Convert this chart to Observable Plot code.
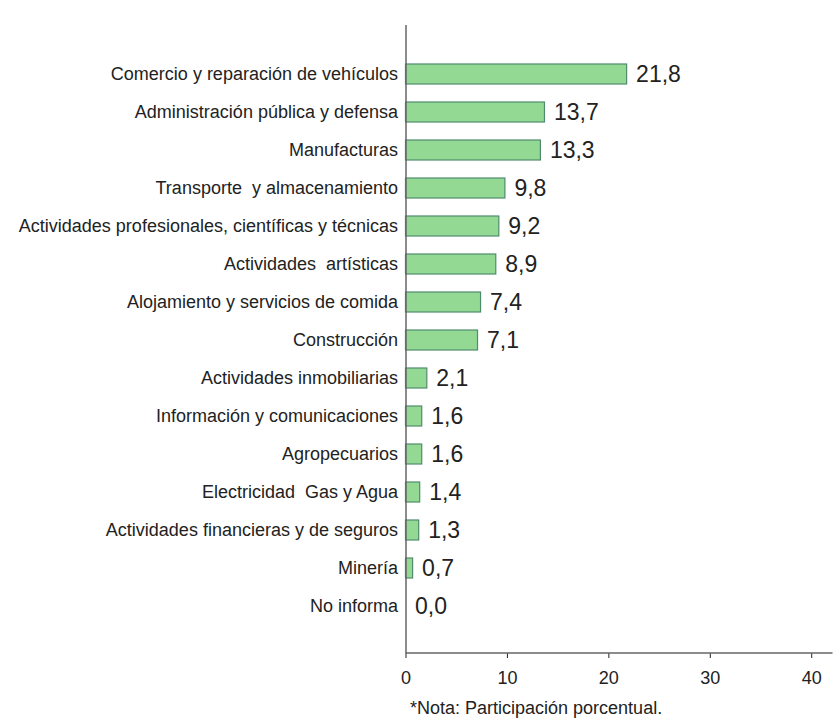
<!DOCTYPE html>
<html>
<head>
<meta charset="utf-8">
<script src="https://cdn.jsdelivr.net/npm/d3@7"></script>
<script src="https://cdn.jsdelivr.net/npm/@observablehq/plot@0.6"></script>
<style>
  html, body { margin: 0; padding: 0; background: #fff; }
  #chart svg text { white-space: pre; }
  .note { font-family: "Liberation Sans", Arial, sans-serif; font-size: 18px; color: #222;
          margin: 8px 0 0 410px; line-height: 20px; }
</style>
</head>
<body>
<div id="chart"></div>
<div class="note">*Nota: Participación porcentual.</div>
<script>
const categories = [
  "Comercio y reparación de vehículos",
  "Administración pública y defensa",
  "Manufacturas",
  "Transporte  y almacenamiento",
  "Actividades profesionales, científicas y técnicas",
  "Actividades  artísticas",
  "Alojamiento y servicios de comida",
  "Construcción",
  "Actividades inmobiliarias",
  "Información y comunicaciones",
  "Agropecuarios",
  "Electricidad  Gas y Agua",
  "Actividades financieras y de seguros",
  "Minería",
  "No informa"
];
const values = [21.8, 13.7, 13.3, 9.8, 9.2, 8.9, 7.4, 7.1, 2.1, 1.6, 1.6, 1.4, 1.3, 0.7, 0.0];
const xTicks = [0, 10, 20, 30, 40];

const data = categories.map((c, i) => ({category: c, value: values[i]}));
const fmt = v => v.toFixed(1).replace(".", ",");

function xAxisLine(...args) {
  const dims = args.find(a => a && typeof a === "object" && "marginLeft" in a && "height" in a);
  const ns = "http://www.w3.org/2000/svg";
  const line = document.createElementNS(ns, "line");
  const y = dims.height - dims.marginBottom;
  line.setAttribute("x1", dims.marginLeft);
  line.setAttribute("x2", dims.width - dims.marginRight + 1);
  line.setAttribute("y1", y);
  line.setAttribute("y2", y);
  line.setAttribute("stroke", "#666");
  line.setAttribute("stroke-width", 1.5);
  return line;
}

const plot = Plot.plot({
  width: 838,
  height: 690,
  marginLeft: 405.5,
  marginRight: 6.5,
  marginTop: 25,
  marginBottom: 37,
  style: {fontFamily: "'Liberation Sans', Arial, sans-serif", fontSize: "18px", color: "#222", background: "#fff"},
  x: {domain: [0, 42], ticks: xTicks, tickSize: 5, tickPadding: 13, label: null, tickFormat: d => String(d)},
  y: {domain: categories, range: [39.15, 640.85], padding: 0.485, tickSize: 0, tickPadding: 8, label: null},
  marks: [
    Plot.barX(data, {x: "value", y: "category", fill: "#93d993", stroke: "#4f8c6c", strokeWidth: 1.2}),
    Plot.text(data, {x: "value", y: "category", text: d => fmt(d.value), textAnchor: "start", dx: 9, fontSize: 23, fill: "#222"}),
    Plot.ruleX([0], {stroke: "#666", strokeWidth: 1.5}),
    xAxisLine
  ]
});
document.getElementById("chart").appendChild(plot);
</script>
</body>
</html>
